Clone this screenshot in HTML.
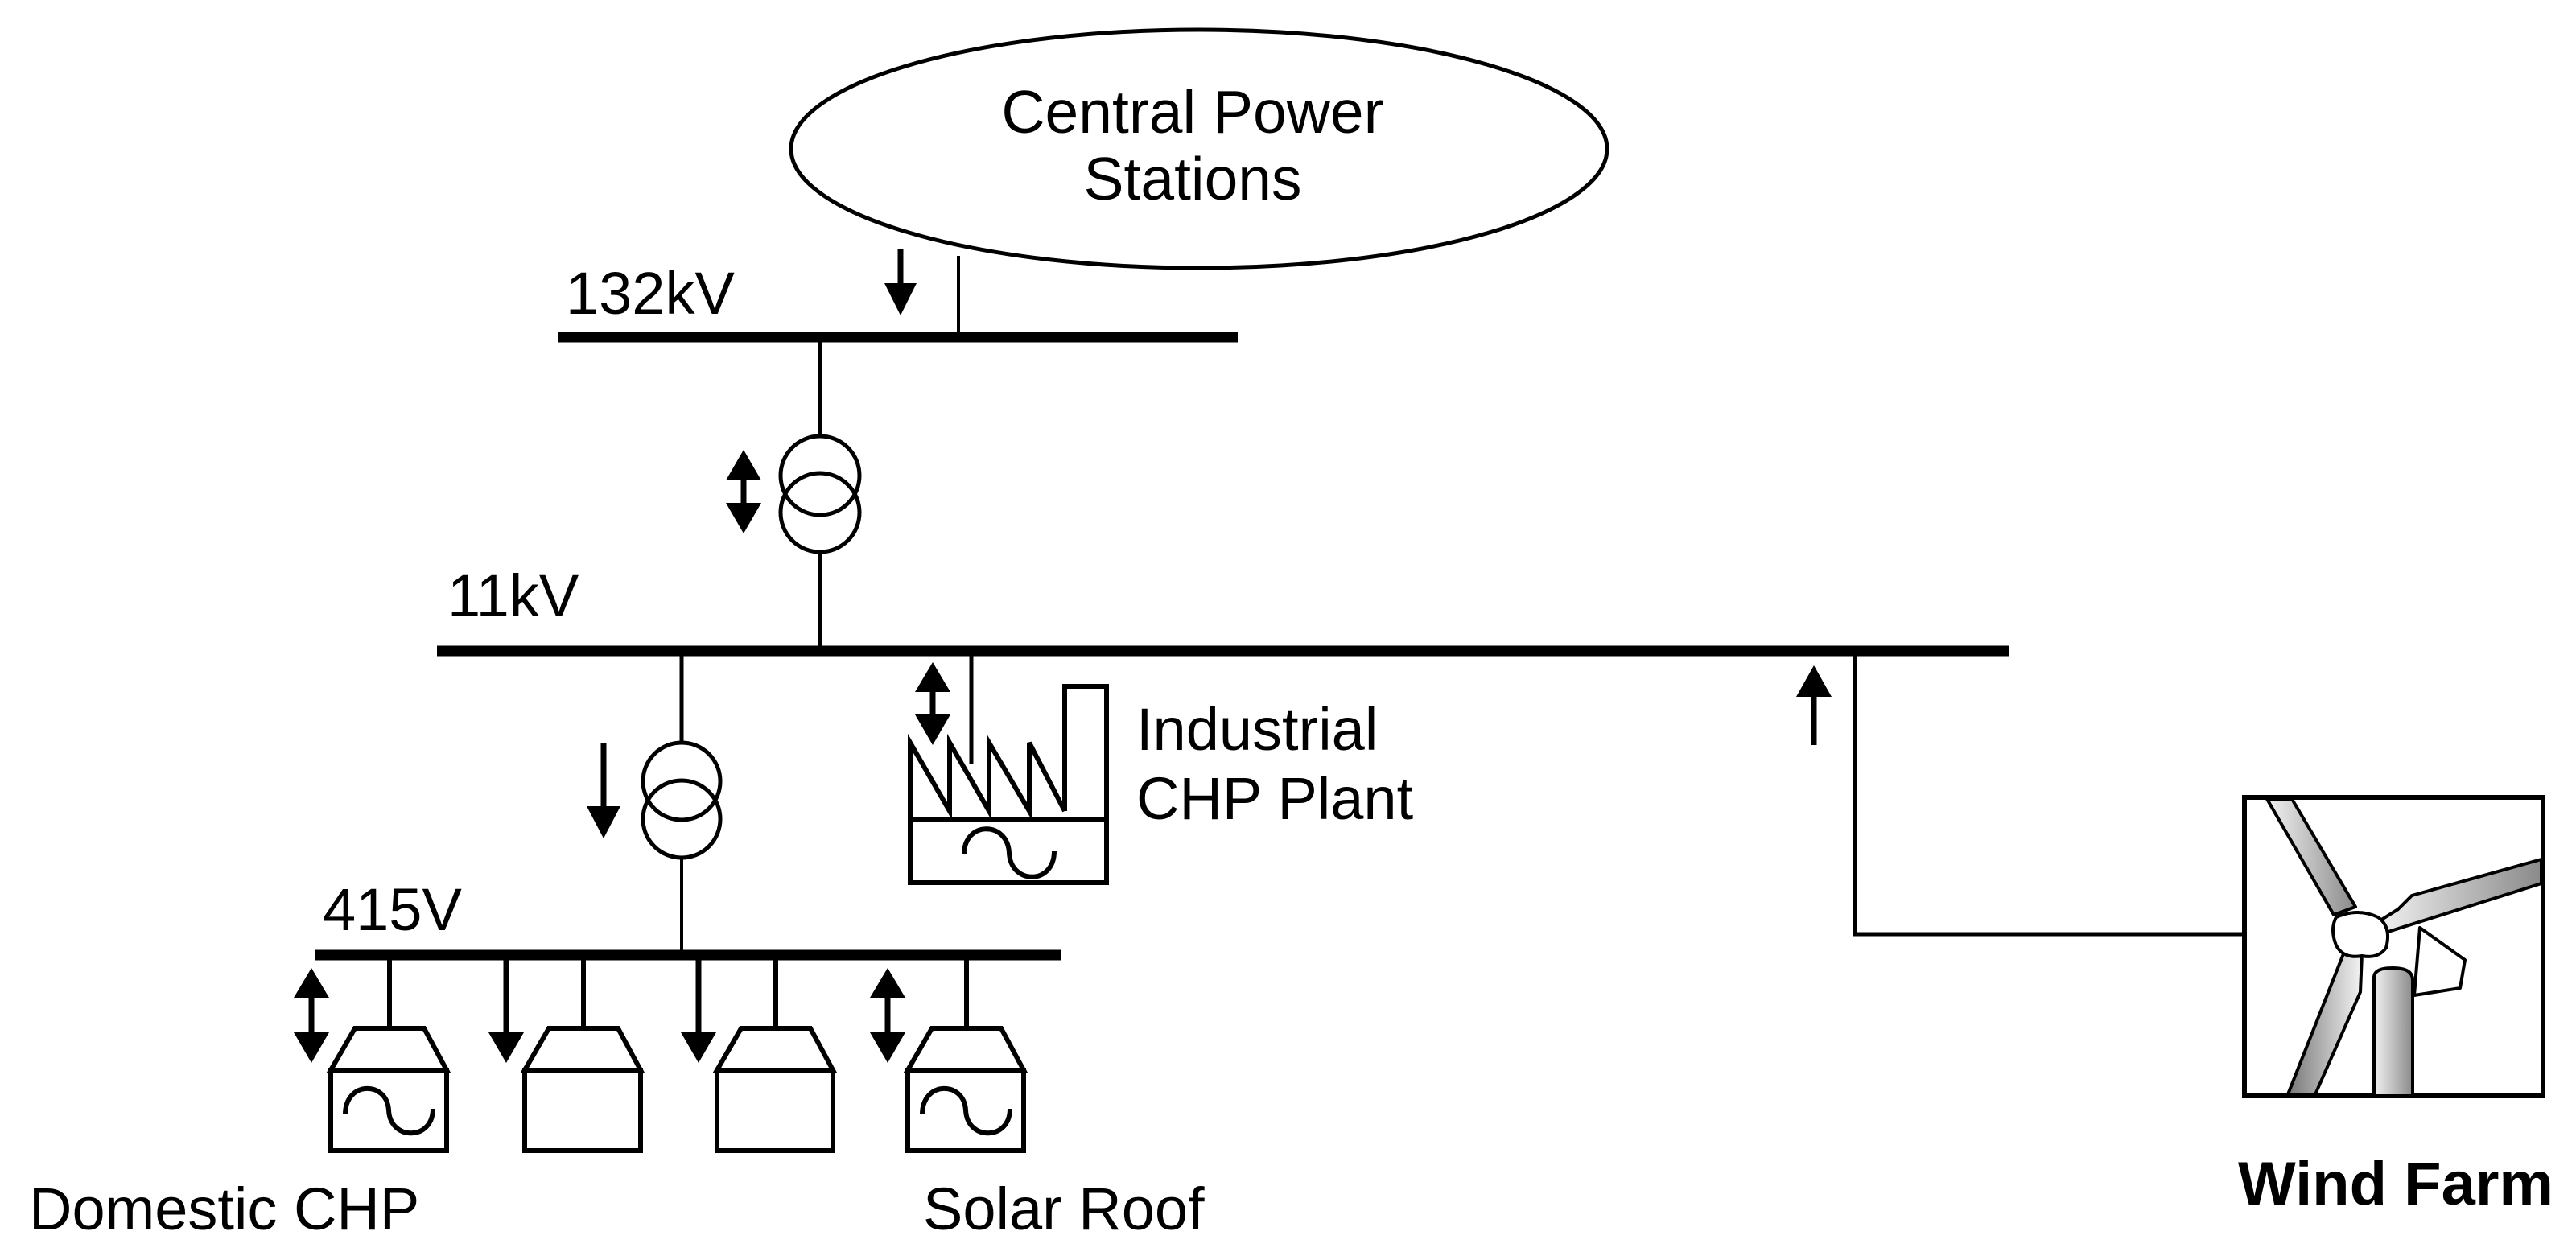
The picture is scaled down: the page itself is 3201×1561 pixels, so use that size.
<!DOCTYPE html>
<html><head><meta charset="utf-8"><style>
html,body{margin:0;padding:0;background:#fff;}
svg{display:block;}
text{font-family:"Liberation Sans",Arial,sans-serif;fill:#000;}
</style></head><body>
<svg width="3201" height="1561" viewBox="0 0 3201 1561" xmlns="http://www.w3.org/2000/svg">
<defs>
<linearGradient id="g1" x1="0" y1="0" x2="1" y2="0"><stop offset="0" stop-color="#f2f2f2"/><stop offset="1" stop-color="#8a8a8a"/></linearGradient>
<linearGradient id="g2" x1="0" y1="0" x2="1" y2="0"><stop offset="0" stop-color="#777"/><stop offset="1" stop-color="#f4f4f4"/></linearGradient>
</defs>
<g fill="none" stroke="#000">
<!-- ellipse -->
<ellipse cx="1490" cy="185" rx="507" ry="148" stroke-width="5"/>
<!-- buses -->
<line x1="693" y1="419" x2="1538" y2="419" stroke-width="13"/>
<line x1="543" y1="809" x2="2497" y2="809" stroke-width="13"/>
<line x1="391" y1="1187" x2="1318" y2="1187" stroke-width="13"/>
<!-- connections -->
<line x1="1191" y1="318" x2="1191" y2="419" stroke-width="4"/>
<line x1="1019" y1="419" x2="1019" y2="542" stroke-width="4"/>
<line x1="1019" y1="686" x2="1019" y2="809" stroke-width="4"/>
<circle cx="1019" cy="591" r="49" stroke-width="5"/>
<circle cx="1019" cy="637" r="49" stroke-width="5"/>
<line x1="847" y1="809" x2="847" y2="923" stroke-width="5"/>
<line x1="847" y1="1066" x2="847" y2="1187" stroke-width="4"/>
<circle cx="847" cy="971" r="48" stroke-width="5"/>
<circle cx="847" cy="1018" r="48" stroke-width="5"/>
<line x1="1207" y1="809" x2="1207" y2="950" stroke-width="5"/>
<polyline points="2305,809 2305,1161 2787,1161" stroke-width="5"/>
<!-- factory -->
<polyline points="1323,1008 1323,853 1375,853 1375,1097 1131,1097 1131,923 1180,1008 1180,923 1229,1008 1229,923 1279,1008 1279,923 1323,1008" stroke-width="6"/>
<line x1="1131" y1="1018" x2="1375" y2="1018" stroke-width="6"/>
<path d="M1198,1062 C1198,1020 1252,1020 1254,1060 C1256,1100 1310,1100 1310,1058" stroke-width="6"/>
<!-- loads -->
<g stroke-width="6">
<g id="ld">
<line x1="484" y1="1187" x2="484" y2="1278"/>
<polygon points="441,1278 527,1278 555,1330 411,1330"/>
<rect x="411" y="1330" width="144" height="100"/>
</g>
<use href="#ld" x="241"/>
<use href="#ld" x="480"/>
<use href="#ld" x="717"/>
<path d="M429,1385 C429,1343 481,1343 483,1380 C485,1418 538,1418 538,1378"/>
<path d="M1146,1385 C1146,1343 1198,1343 1200,1380 C1202,1418 1255,1418 1255,1378"/>
</g>
<!-- wind box -->
<rect x="2789" y="991" width="371" height="371" stroke-width="6"/>
</g>
<!-- turbine -->
<g stroke="#000" stroke-width="4" stroke-linejoin="round">
<path d="M3007,1153 L3063,1193 L3057,1228 L3000,1237 Z" fill="#fff"/>
<path d="M2950,1362 L2950,1215 Q2950,1203 2973,1203 Q2998,1203 2998,1218 L2998,1362 Z" fill="url(#g1)"/>
<path d="M2817,993 L2848,993 L2927,1127 L2900,1137 Z" fill="url(#g1)"/>
<path d="M2953,1147 L2980,1130 L2997,1113 L3158,1068 L3158,1098 L2955,1162 Z" fill="url(#g1)"/>
<path d="M2913,1183 L2935,1185 L2933,1233 L2877,1360 L2843,1360 Z" fill="url(#g2)"/>
<path d="M2903,1140 Q2930,1128 2955,1140 Q2972,1152 2965,1178 Q2955,1192 2935,1188 Q2912,1192 2903,1175 Q2895,1155 2903,1140 Z" fill="#fff"/>
</g>
<!-- arrows -->
<g fill="#000" stroke="#000" stroke-width="7">
<line x1="1119" y1="309" x2="1119" y2="360"/><polygon stroke="none" points="1099,352 1139,352 1119,392"/>
<line x1="924" y1="590" x2="924" y2="632"/><polygon stroke="none" points="902,597 946,597 924,559"/><polygon stroke="none" points="902,625 946,625 924,663"/>
<line x1="750" y1="924" x2="750" y2="1010"/><polygon stroke="none" points="729,1002 771,1002 750,1042"/>
<line x1="1159" y1="853" x2="1159" y2="895"/><polygon stroke="none" points="1137,860 1181,860 1159,823"/><polygon stroke="none" points="1137,888 1181,888 1159,926"/>
<line x1="2254" y1="860" x2="2254" y2="926"/><polygon stroke="none" points="2232,866 2276,866 2254,827"/>
<line x1="387" y1="1233" x2="387" y2="1290"/><polygon stroke="none" points="365,1240 409,1240 387,1203"/><polygon stroke="none" points="365,1283 409,1283 387,1321"/>
<line x1="629" y1="1193" x2="629" y2="1290"/><polygon stroke="none" points="607,1283 651,1283 629,1321"/>
<line x1="868" y1="1193" x2="868" y2="1290"/><polygon stroke="none" points="846,1283 890,1283 868,1321"/>
<line x1="1103" y1="1233" x2="1103" y2="1290"/><polygon stroke="none" points="1081,1240 1125,1240 1103,1203"/><polygon stroke="none" points="1081,1283 1125,1283 1103,1321"/>
</g>
<!-- text -->
<g font-size="75">
<text x="1482" y="165" text-anchor="middle">Central Power</text>
<text x="1482" y="248" text-anchor="middle">Stations</text>
<text x="703" y="390" font-size="74">132kV</text>
<text x="556" y="766" font-size="74">11kV</text>
<text x="401" y="1156" font-size="74">415V</text>
<text x="1412" y="932" font-size="74">Industrial</text>
<text x="1412" y="1018" font-size="74">CHP Plant</text>
<text x="36" y="1528" font-size="74">Domestic CHP</text>
<text x="1147" y="1528" font-size="74">Solar Roof</text>
<text x="2781" y="1497" font-size="76" font-weight="bold">Wind Farm</text>
</g>
</svg>
</body></html>
